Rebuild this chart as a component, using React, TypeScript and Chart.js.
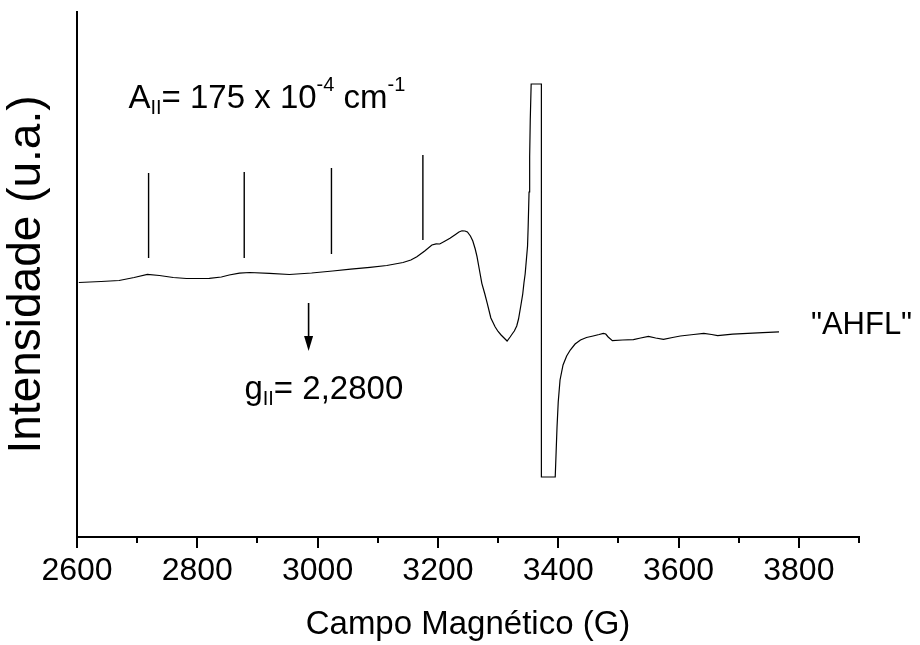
import React, { useEffect, useRef } from "react";
import { Chart, registerables } from "chart.js";

Chart.register(...registerables);

// Spectrum (magnetic field in G, intensity in arbitrary units)
const fieldG: number[] = [
  2603, 2640, 2670, 2695, 2717, 2737, 2760, 2782, 2820, 2840, 2853, 2870, 2887, 2920, 2953, 2990,
  3025, 3055, 3087, 3115, 3142, 3155, 3165, 3178, 3190, 3197, 3203, 3212, 3220, 3228, 3235, 3240, 3245,
  3249, 3254, 3258, 3262, 3265, 3269, 3273, 3278, 3282, 3288, 3295, 3300, 3305, 3310, 3315, 3320,
  3324, 3327, 3331, 3334, 3338, 3341, 3343, 3345, 3347, 3349, 3350, 3351.5, 3352.5, 3353.5, 3355, 3372,
  3372, 3395, 3396.5, 3398, 3400, 3403, 3408, 3414, 3420, 3428, 3437, 3447, 3458, 3468, 3475, 3479,
  3483, 3490, 3507, 3525, 3537, 3550, 3562, 3575, 3590, 3603, 3625, 3642, 3655, 3665, 3690, 3715,
  3740, 3767,
];
const intensity: number[] = [
  -0.5, 0.5, 1.5, 4.5, 7.7, 6.5, 4.5, 3.5, 3.7, 5, 7, 8.8, 9.5, 8.7, 7.5, 9,
  11, 12.8, 14.7, 16.5, 19.5, 22, 25.3, 31, 37, 38.2, 38, 41, 43.7, 47, 50, 51.2, 51,
  50, 46, 41, 33, 25.3, 12, -1.3, -12, -21.3, -36, -44.7, -49.5, -53, -56, -59, -55,
  -51.5, -49, -44, -37, -23, -12, -1, 8, 22, 36, 55, 90, 125, 162, 198, 198,
  -195, -195, -170, -145, -120, -98, -83, -74, -68, -62, -58, -55.5, -54, -52.5, -51.3, -52,
  -55, -58.7, -58, -57.7, -56, -54.3, -56, -57.3, -55.5, -54, -52.5, -51.3, -52.5, -53.7, -52.2, -51.3,
  -50.6, -49.8,
];

// Hyperfine marker lines
const markerG: number[] = [2719, 2878, 3023, 3175];
const markerTop: number[] = [109, 110, 114, 127];
const markerBottom: number[] = [24, 24, 28, 42];

// g-parallel arrow
const arrowG = 2985;
const arrowTop = -21;
const arrowTip = -69;

// Axis
const xMin = 2600;
const xMax = 3900;
const yMin = -255;
const yMax = 270;
const xTickValues: number[] = [2600, 2700, 2800, 2900, 3000, 3100, 3200, 3300, 3400, 3500, 3600, 3700, 3800, 3900];
const xLabelStep = 200;

// Texts
const xTitle = "Campo Magnético (G)";
const yTitle = "Intensidade (u.a.)";
const seriesLabel = '"AHFL"';
const seriesLabelPos = { x: 3820, y: -52 };
const aText: { t: string; kind: "n" | "sub" | "sup" }[] = [
  { t: "A", kind: "n" },
  { t: "II", kind: "sub" },
  { t: "= 175 x 10", kind: "n" },
  { t: "-4", kind: "sup" },
  { t: " cm", kind: "n" },
  { t: "-1", kind: "sup" },
];
const aTextPos = { x: 2685.5, y: 173.7 };
const gText: { t: string; kind: "n" | "sub" | "sup" }[] = [
  { t: "g", kind: "n" },
  { t: "II", kind: "sub" },
  { t: "= 2,2800", kind: "n" },
];
const gTextPos = { x: 2878.3, y: -117.3 };

const FONT = "'Liberation Sans', Arial, Helvetica, sans-serif";

export default function App() {
  const ref = useRef<HTMLCanvasElement | null>(null);

  useEffect(() => {
    const canvas = ref.current;
    if (!canvas) return;

    const spectrum = fieldG.map((x, i) => ({ x, y: intensity[i] }));
    const markerSets = markerG.map((g, i) => ({
      data: [
        { x: g, y: markerBottom[i] },
        { x: g, y: markerTop[i] },
      ],
      borderColor: "#000",
      borderWidth: 1.4,
      pointRadius: 0,
      showLine: true,
    }));

    const drawRich = (
      ctx: CanvasRenderingContext2D,
      segs: { t: string; kind: string }[],
      x0: number,
      y0: number,
      size: number
    ) => {
      let x = x0;
      ctx.textBaseline = "alphabetic";
      ctx.textAlign = "left";
      for (const s of segs) {
        let fs = size;
        let dy = 0;
        if (s.kind === "sub") {
          fs = Math.round(size * 0.6);
          dy = size * 0.17;
        } else if (s.kind === "sup") {
          fs = Math.round(size * 0.6);
          dy = -size * 0.52;
        }
        ctx.font = `${fs}px ${FONT}`;
        ctx.fillText(s.t, x, y0 + dy);
        x += ctx.measureText(s.t).width;
      }
    };

    const overlay = {
      id: "overlay",
      afterDraw(chart: any) {
        const ctx: CanvasRenderingContext2D = chart.ctx;
        const xs = chart.scales.x;
        const ys = chart.scales.y;
        const bottom = chart.chartArea.bottom;
        ctx.save();
        ctx.strokeStyle = "#000";
        ctx.fillStyle = "#000";
        // x tick marks
        ctx.lineWidth = 2;
        for (const v of xTickValues) {
          const px = Math.round(xs.getPixelForValue(v));
          const len = v % xLabelStep === 0 ? 11 : 6;
          ctx.beginPath();
          ctx.moveTo(px, bottom);
          ctx.lineTo(px, bottom + len);
          ctx.stroke();
        }
        // arrow
        const ax = xs.getPixelForValue(arrowG);
        const at = ys.getPixelForValue(arrowTop);
        const ab = ys.getPixelForValue(arrowTip);
        ctx.lineWidth = 1.6;
        ctx.beginPath();
        ctx.moveTo(ax, at);
        ctx.lineTo(ax, ab - 12);
        ctx.stroke();
        ctx.beginPath();
        ctx.moveTo(ax - 4.5, ab - 15);
        ctx.lineTo(ax + 4.5, ab - 15);
        ctx.lineTo(ax, ab);
        ctx.closePath();
        ctx.fill();
        // texts
        drawRich(ctx, aText, xs.getPixelForValue(aTextPos.x), ys.getPixelForValue(aTextPos.y), 33);
        drawRich(ctx, gText, xs.getPixelForValue(gTextPos.x), ys.getPixelForValue(gTextPos.y), 33);
        ctx.font = `31px ${FONT}`;
        ctx.textBaseline = "alphabetic";
        ctx.fillText(seriesLabel, xs.getPixelForValue(seriesLabelPos.x), ys.getPixelForValue(seriesLabelPos.y));
        ctx.restore();
      },
    };

    const chart = new Chart(canvas, {
      type: "scatter",
      data: {
        datasets: [
          {
            data: spectrum,
            borderColor: "#000",
            borderWidth: 1.2,
            pointRadius: 0,
            showLine: true,
            tension: 0,
          },
          ...markerSets,
        ],
      } as any,
      options: {
        animation: false,
        responsive: true,
        maintainAspectRatio: false,
        events: [],
        layout: { padding: { top: 12, right: 61, left: 0, bottom: 0 } },
        plugins: {
          legend: { display: false },
          tooltip: { enabled: false },
        },
        scales: {
          x: {
            type: "linear",
            min: xMin,
            max: xMax,
            afterBuildTicks: (scale: any) => {
              scale.ticks = xTickValues.map((v) => ({ value: v }));
            },
            afterFit: (scale: any) => {
              scale.height = 108;
            },
            grid: { display: false, drawTicks: false },
            border: { display: true, color: "#000", width: 2 },
            ticks: {
              autoSkip: false,
              maxRotation: 0,
              padding: 15,
              color: "#000",
              font: { family: FONT, size: 32 },
              callback: (v: any) => (Number(v) % xLabelStep === 0 ? String(v) : ""),
            },
            title: {
              display: true,
              text: xTitle,
              color: "#000",
              font: { family: FONT, size: 33 },
              padding: { top: 4, bottom: 0 },
            },
          },
          y: {
            type: "linear",
            min: yMin,
            max: yMax,
            afterFit: (scale: any) => {
              scale.width = 77;
            },
            grid: { display: false, drawTicks: false },
            border: { display: true, color: "#000", width: 2 },
            ticks: { display: false },
            title: {
              display: true,
              text: yTitle,
              color: "#000",
              font: { family: FONT, size: 46, lineHeight: 1.2 },
              padding: { top: 0, bottom: 0 },
            },
          },
        },
      } as any,
      plugins: [overlay],
    });

    return () => chart.destroy();
  }, []);

  return (
    <div style={{ position: "fixed", left: 0, top: 0, width: 920, height: 645, background: "#fff" }}>
      <canvas ref={ref} />
    </div>
  );
}
